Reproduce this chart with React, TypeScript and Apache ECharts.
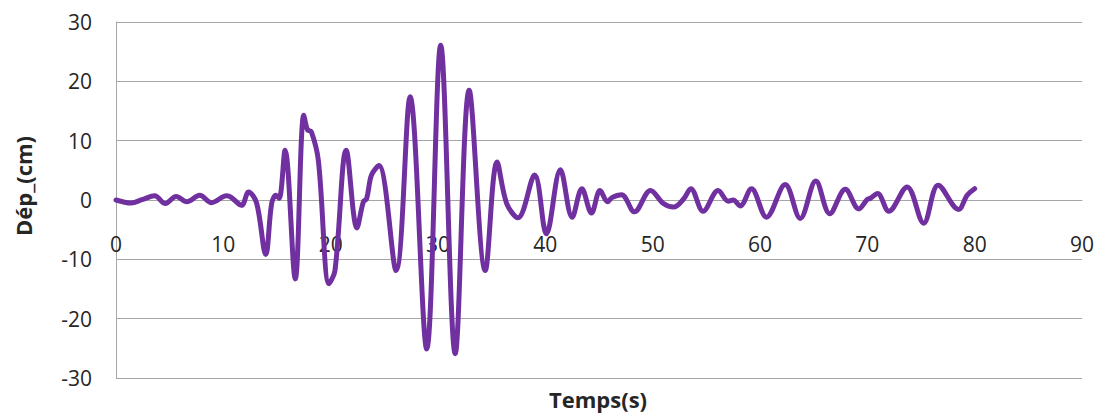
import React, { useEffect, useRef } from "react";
import * as echarts from "echarts";

const times: number[] = [
  0, 1.4, 2.5, 3.6, 4.6, 5.6, 6.6, 7.8, 8.9, 10.3, 10.7, 11.7, 12.35, 13.1, 13.95,
  14.5, 14.9, 15.2, 15.75, 16.7, 17.5, 17.85, 18.2, 18.85, 19.85, 20.4, 21.45, 22.45,
  23.05, 23.35, 23.8, 24.5, 26.1, 27.4, 28.95, 30.25, 31.6, 32.9, 34.4, 35.5, 36.4,
  37.45, 39.0, 40.1, 41.4, 42.5, 43.4, 44.3, 45.1, 45.8, 46.2, 47.1, 48.3, 49.8, 51.0,
  51.95, 52.9, 53.55, 54.7, 56.1, 57.05, 57.5, 58.15, 59.2, 60.6, 62.35, 63.75, 65.2,
  66.5, 67.95, 69.2, 70.0, 70.3, 70.95, 72.0, 73.7, 75.25, 76.6, 78.5, 79.3, 80.0,
];

const displacement: number[] = [
  0, -0.5, 0.1, 0.7, -0.6, 0.6, -0.3, 0.8, -0.45, 0.7, 0.5, -0.9, 1.35, -0.5, -9.2,
  -0.6, 0.8, 0.3, 8.4, -13.3, 14.3, 11.8, 11.5, 6.7, -14.1, -11.9, 8.4, -4.7,
  -0.3, 0.2, 4.2, 5.8, -11.9, 17.4, -25.1, 26.1, -25.9, 18.5, -11.9, 6.4, -0.6,
  -3.0, 4.2, -5.7, 5.1, -2.9, 1.9, -2.2, 1.6, -0.3, 0.4, 0.9, -2.0, 1.6, -0.6,
  -1.2, 0.2, 1.9, -1.9, 1.6, -0.2, 0.0, -1.0, 1.9, -2.9, 2.6, -3.1, 3.2,
  -2.3, 1.8, -1.5, 0.1, 0.3, 1.1, -1.9, 2.2, -3.9, 2.5, -1.6, 0.8, 1.9,
];

const xTicks = { min: 0, max: 90, interval: 10 };
const yTicks = { min: -30, max: 30, interval: 10 };
const xTitle = "Temps(s)";
const yTitle = "Dép_(cm)";

export default function App() {
  const ref = useRef<HTMLDivElement>(null);

  useEffect(() => {
    if (!ref.current) return;
    const chart = echarts.init(ref.current, undefined, { renderer: "svg" });
    const font = "'Open Sans', 'Noto Sans', sans-serif";
    const gridColor = "#a6a6a6";
    const labelColor = "#262626";
    const gridTop = 22;
    const gridBottom = 36;
    const plotHeight = 414 - gridTop - gridBottom;
    // x axis crosses the y axis at 0 (middle of the -30..30 range)
    const zeroOffset = -plotHeight * ((0 - yTicks.min) / (yTicks.max - yTicks.min));
    chart.setOption({
      animation: false,
      backgroundColor: "#ffffff",
      grid: {
        left: 116,
        right: 20,
        top: gridTop,
        bottom: gridBottom,
        containLabel: false,
        outerBoundsMode: "none",
      },
      xAxis: {
        type: "value",
        min: xTicks.min,
        max: xTicks.max,
        interval: xTicks.interval,
        position: "bottom",
        offset: zeroOffset,
        axisLine: { show: true, onZero: false, lineStyle: { color: gridColor, width: 1 } },
        axisTick: { show: false },
        splitLine: { show: false },
        axisLabel: {
          show: true,
          margin: 33,
          color: labelColor,
          fontFamily: font,
          fontSize: 21,
          showMinLabel: true,
          showMaxLabel: true,
        },
      },
      yAxis: {
        type: "value",
        min: yTicks.min,
        max: yTicks.max,
        interval: yTicks.interval,
        axisLine: { show: true, lineStyle: { color: gridColor, width: 1 } },
        axisTick: { show: false },
        splitLine: { show: true, lineStyle: { color: gridColor, width: 1 } },
        axisLabel: {
          margin: 24,
          color: labelColor,
          fontFamily: font,
          fontSize: 21,
        },
      },
      graphic: [
        {
          type: "text",
          x: 598,
          y: 399,
          style: {
            text: xTitle,
            fill: labelColor,
            font: `bold 22px ${font}`,
            textAlign: "center",
            textVerticalAlign: "middle",
          },
        },
        {
          type: "text",
          x: 23,
          y: 186,
          rotation: Math.PI / 2,
          style: {
            text: yTitle,
            fill: labelColor,
            font: `bold 22px ${font}`,
            textAlign: "center",
            textVerticalAlign: "middle",
          },
        },
      ],
      series: [
        {
          type: "line",
          data: times.map((t, i) => [t, displacement[i]]),
          smooth: 0.35,
          showSymbol: false,
          symbol: "none",
          lineStyle: { color: "#7030a0", width: 5, cap: "round", join: "round" },
          z: 5,
        },
      ],
    });
    return () => chart.dispose();
  }, []);

  return (
    <div
      ref={ref}
      style={{ position: "fixed", left: 0, top: 0, width: 1102, height: 414, background: "#fff" }}
    />
  );
}
